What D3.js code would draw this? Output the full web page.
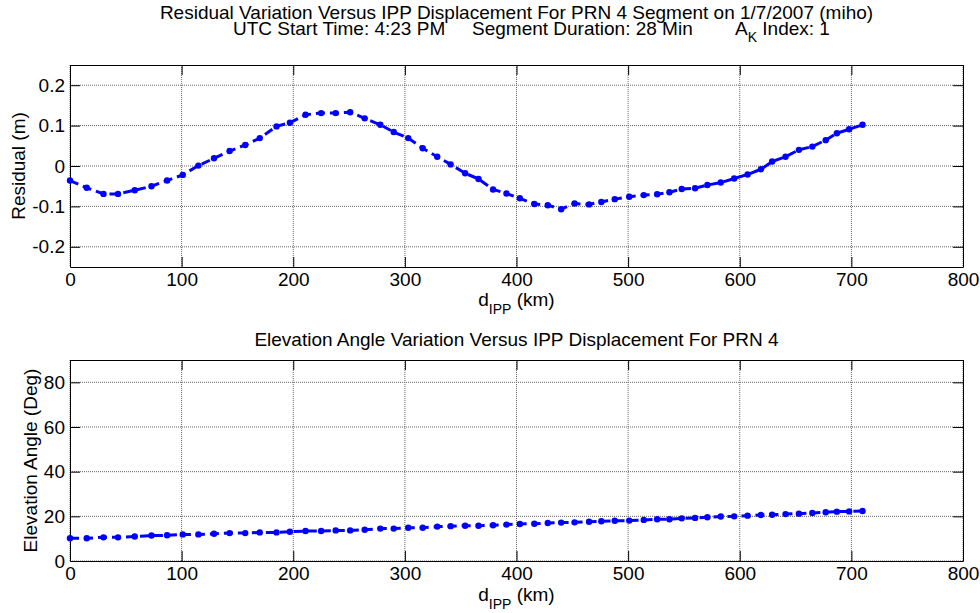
<!DOCTYPE html>
<html>
<head>
<meta charset="utf-8">
<script src="https://cdn.jsdelivr.net/npm/d3@7"></script>
<style>
  body { margin: 0; background: #fff; }
  text { font-family: "Liberation Sans", Arial, sans-serif; fill: #000; }
</style>
</head>
<body>
<svg id="fig" width="980" height="613"></svg>
<script>
// data
var dIpp = [0, 15, 30, 43, 58, 73, 87, 101, 115, 129, 143, 157, 170, 185, 197, 211, 225, 238, 251, 264,
  278, 290, 303, 316, 329, 341, 354, 366, 379, 391, 403, 416, 428, 440, 452, 465, 476, 488, 501, 514,
  526, 537, 548, 560, 571, 583, 595, 607, 619, 629, 641, 653, 665, 677, 687, 698, 710];
var residual = [-0.036, -0.054, -0.069, -0.069, -0.060, -0.050, -0.036, -0.022, 0.001, 0.019, 0.037, 0.052,
  0.069, 0.098, 0.107, 0.127, 0.131, 0.131, 0.133, 0.118, 0.102, 0.084, 0.069, 0.044, 0.023, 0.004,
  -0.018, -0.032, -0.058, -0.068, -0.080, -0.094, -0.097, -0.107, -0.093, -0.095, -0.089, -0.082,
  -0.076, -0.072, -0.070, -0.065, -0.057, -0.055, -0.047, -0.041, -0.031, -0.021, -0.008, 0.011,
  0.023, 0.040, 0.048, 0.064, 0.081, 0.091, 0.102];
var elevation = [10.2, 10.2, 10.6, 10.6, 11.0, 11.4, 11.5, 11.9, 11.9, 12.2, 12.5, 12.5, 12.8, 12.8, 13.1,
  13.4, 13.4, 13.7, 13.7, 14.0, 14.5, 14.5, 14.9, 14.9, 15.4, 15.6, 15.8, 15.8, 16.0, 16.3, 16.6, 16.7,
  17.0, 17.2, 17.3, 17.6, 17.8, 18.0, 18.1, 18.4, 18.7, 18.7, 19.1, 19.3, 19.6, 19.9, 20.0, 20.3, 20.6,
  20.7, 21.0, 21.2, 21.5, 21.8, 22.1, 22.2, 22.4];
var xTicks = [0, 100, 200, 300, 400, 500, 600, 700, 800];
var resTicks = [-0.2, -0.1, 0, 0.1, 0.2];
var elevTicks = [0, 20, 40, 60, 80];

var svg = d3.select('#fig');
var fontSize = 19;
var x = d3.scaleLinear().domain([0, 800]).range([70, 963]);
var midX = (x.range()[0] + x.range()[1]) / 2;

// text with a lowered subscript part
function sub(sel, main, subText, rest, drop) {
  sel.append('tspan').text(main);
  sel.append('tspan').attr('dy', drop).attr('font-size', 14).text(subText);
  sel.append('tspan').attr('dy', -drop).text(rest);
}

function drawPanel(top, bottom, yDomain, yTicks, values, yLabel, yLabelX, xLabelY) {
  var y = d3.scaleLinear().domain(yDomain).range([bottom, top]);
  var g = svg.append('g');

  // dotted grid
  g.append('g').selectAll('line').data(xTicks).join('line')
    .attr('x1', function (d) { return x(d); }).attr('x2', function (d) { return x(d); })
    .attr('y1', top).attr('y2', bottom)
    .attr('stroke', '#666').attr('stroke-dasharray', '1,1');
  g.append('g').selectAll('line').data(yTicks).join('line')
    .attr('x1', x.range()[0]).attr('x2', x.range()[1])
    .attr('y1', function (d) { return y(d); }).attr('y2', function (d) { return y(d); })
    .attr('stroke', '#666').attr('stroke-dasharray', '1,1');

  // axes, ticks inside on all sides
  var fmt = function (d) { return String(d); };
  var xb = g.append('g').attr('transform', 'translate(0,' + bottom + ')')
    .call(d3.axisBottom(x).tickValues(xTicks).tickSize(-10).tickSizeOuter(0).tickPadding(6).tickFormat(fmt));
  var xt = g.append('g').attr('transform', 'translate(0,' + top + ')')
    .call(d3.axisTop(x).tickValues(xTicks).tickSize(-10).tickSizeOuter(0).tickFormat(''));
  var yl = g.append('g').attr('transform', 'translate(' + x.range()[0] + ',0)')
    .call(d3.axisLeft(y).tickValues(yTicks).tickSize(-10).tickSizeOuter(0).tickPadding(5).tickFormat(fmt));
  var yr = g.append('g').attr('transform', 'translate(' + x.range()[1] + ',0)')
    .call(d3.axisRight(y).tickValues(yTicks).tickSize(-10).tickSizeOuter(0).tickFormat(''));
  [xb, xt, yl, yr].forEach(function (a) {
    a.selectAll('path,line').attr('stroke', '#000').attr('stroke-width', 1);
    a.selectAll('text').attr('font-size', fontSize).attr('font-family', null);
  });

  // data line: dashed with dot markers
  var pts = dIpp.map(function (d, i) { return [d, values[i]]; });
  var line = d3.line().x(function (d) { return x(d[0]); }).y(function (d) { return y(d[1]); });
  g.append('path').datum(pts).attr('d', line)
    .attr('fill', 'none').attr('stroke', '#0000ff').attr('stroke-width', 3)
    .attr('stroke-dasharray', '9,5');
  g.append('g').selectAll('circle').data(pts).join('circle')
    .attr('cx', function (d) { return x(d[0]); }).attr('cy', function (d) { return y(d[1]); })
    .attr('r', 3.2).attr('fill', '#0000ff');

  // labels
  g.append('text').attr('transform', 'translate(' + yLabelX + ',' + (top + bottom) / 2 + ') rotate(-90)')
    .attr('text-anchor', 'middle').attr('font-size', fontSize).text(yLabel);
  var xl = g.append('text').attr('x', midX).attr('y', xLabelY).attr('text-anchor', 'middle')
    .attr('font-size', fontSize);
  sub(xl, 'd', 'IPP', ' (km)', 8);
}

drawPanel(65, 267, [-0.25, 0.25], resTicks, residual, 'Residual (m)', 25, 306);
drawPanel(360, 561, [0, 90], elevTicks, elevation, 'Elevation Angle (Deg)', 37, 601);

// titles
svg.append('text').attr('x', midX).attr('y', 19).attr('text-anchor', 'middle')
  .attr('font-size', fontSize)
  .text('Residual Variation Versus IPP Displacement For PRN 4 Segment on 1/7/2007 (miho)');
svg.append('text').attr('x', 233).attr('y', 35).attr('font-size', fontSize).text('UTC Start Time: 4:23 PM');
svg.append('text').attr('x', 472).attr('y', 35).attr('font-size', fontSize).text('Segment Duration: 28 Min');
sub(svg.append('text').attr('x', 735).attr('y', 35).attr('font-size', fontSize), 'A', 'K', ' Index: 1', 7);
svg.append('text').attr('x', midX).attr('y', 346).attr('text-anchor', 'middle')
  .attr('font-size', fontSize)
  .text('Elevation Angle Variation Versus IPP Displacement For PRN 4');
</script>
</body>
</html>
